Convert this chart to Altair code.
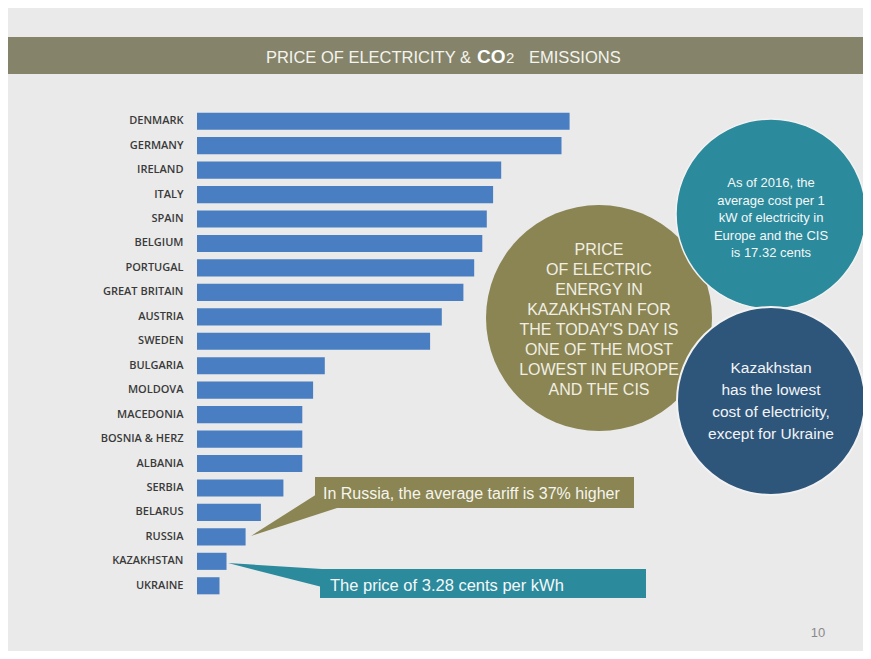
import math
import altair as alt
import pandas as pd

# ---------------- data ----------------
countries = ["DENMARK", "GERMANY", "IRELAND", "ITALY", "SPAIN", "BELGIUM",
             "PORTUGAL", "GREAT BRITAIN", "AUSTRIA", "SWEDEN", "BULGARIA",
             "MOLDOVA", "MACEDONIA", "BOSNIA & HERZ", "ALBANIA", "SERBIA",
             "BELARUS", "RUSSIA", "KAZAKHSTAN", "UKRAINE"]
price_cents = [41.4, 40.5, 33.8, 32.9, 32.2, 31.7, 30.8, 29.6, 27.2, 25.9,
               14.2, 12.9, 11.7, 11.7, 11.7, 9.6, 7.1, 5.4, 3.28, 2.5]

title_left = "PRICE OF ELECTRICITY &"
title_co = "CO"
title_sub = "2"
title_right = "EMISSIONS"
callout_russia = "In Russia, the average tariff is 37% higher"
callout_kz = "The price of 3.28 cents per kWh"
olive_lines = ["PRICE", "OF ELECTRIC", "ENERGY IN", "KAZAKHSTAN FOR",
               "THE TODAY'S DAY IS", "ONE OF THE MOST", "LOWEST IN EUROPE",
               "AND THE CIS"]
teal_lines = ["As of 2016, the", "average cost per 1", "kW of electricity  in",
              "Europe and the CIS", "is 17.32 cents"]
blue_lines = ["Kazakhstan", "has the lowest", "cost of electricity,",
              "except for Ukraine"]
page_number = "10"

df = pd.DataFrame({"country": countries, "price": price_cents})

# ---------------- layout helpers ----------------
OX, OY = 197, 109          # page position of the plot origin
W, H = 405, 489            # plot area
CW, CH = 855, 643          # whole canvas
FONT = "Liberation Sans, Arial, sans-serif"

OLIVE = "#8A8553"
HEADER = "#85846A"
TEAL = "#2B8A9C"
BLUE = "#2E557A"
BAR = "#4A7EC2"


def px(x):
    return alt.value(x - OX)


def py(y):
    return alt.value(y - OY)


def disc(r):
    # Vega circle symbol: radius = sqrt(size) / 2
    return 4 * r * r


base = alt.Chart(pd.DataFrame({"k": [0]}))

header = base.mark_rect(color=HEADER).encode(
    x=px(7), x2=px(871), y=py(37), y2=py(74))

t1 = base.mark_text(text=title_left, font=FONT, fontSize=16.5, align="right",
                    baseline="alphabetic", color="#F4F4EE").encode(x=px(471), y=py(63.3))
t2 = base.mark_text(text=title_co, font=FONT, fontSize=19, fontWeight="bold", align="left",
                    baseline="alphabetic", color="#FFFFFF").encode(x=px(477), y=py(63.3))
t3 = base.mark_text(text=title_sub, font=FONT, fontSize=15, align="left",
                    baseline="alphabetic", color="#F4F4EE").encode(x=px(506), y=py(63.3))
t4 = base.mark_text(text=title_right, font=FONT, fontSize=16.5, align="left",
                    baseline="alphabetic", color="#F4F4EE").encode(x=px(529), y=py(63.3))

bars = alt.Chart(df).mark_bar(color=BAR).encode(
    x=alt.X("price:Q", scale=alt.Scale(domain=[0, 45], nice=False), axis=None),
    y=alt.Y("country:N", sort=countries, title=None,
            scale=alt.Scale(paddingInner=0.3, paddingOuter=0.15),
            axis=alt.Axis(ticks=False, domain=False, labelPadding=14,
                          labelFont="Open Sans", labelFontSize=11,
                          labelFontWeight=600, labelColor="#3A3A3A",
                          labelLimit=200)),
)

c_olive = base.mark_circle(color=OLIVE, opacity=1, size=disc(113)).encode(
    x=px(599), y=py(318))
c_teal = base.mark_circle(color=TEAL, opacity=1, size=disc(95),
                          stroke="#F2F2F2", strokeWidth=1.5).encode(x=px(771), y=py(214))
c_blue = base.mark_circle(color=BLUE, opacity=1, size=disc(94),
                          stroke="#F2F2F2", strokeWidth=2).encode(x=px(771), y=py(401))

txt_olive = base.mark_text(text=olive_lines, font=FONT, fontSize=16, lineHeight=20,
                           align="center", baseline="top", color="#F1EFE4").encode(
    x=px(599), y=py(242))
txt_teal = base.mark_text(text=teal_lines, font=FONT, fontSize=13, lineHeight=17.5,
                          align="center", baseline="top", color="#F4F8F9").encode(
    x=px(771), y=py(177))
txt_blue = base.mark_text(text=blue_lines, font=FONT, fontSize=15.5, lineHeight=22,
                          align="center", baseline="top", color="#F2F4F7").encode(
    x=px(771), y=py(361))

# callouts
box_ru = base.mark_rect(color=OLIVE).encode(x=px(315), x2=px(634), y=py(477), y2=py(508))
ptr_ru = base.mark_point(shape="M0,0L66,-42L86,-28Z", size=4, filled=True,
                         color=OLIVE, opacity=1, strokeOpacity=0).encode(x=px(251), y=py(536))
txt_ru = base.mark_text(text=callout_russia, font=FONT, fontSize=16, align="left",
                        baseline="alphabetic", color="#F6F5EE").encode(x=px(323), y=py(498.5))

box_kz = base.mark_rect(color=TEAL).encode(x=px(320), x2=px(646), y=py(569), y2=py(598))
ptr_kz = base.mark_point(shape="M0,0L94,6L94,24Z", size=4, filled=True,
                         color=TEAL, opacity=1, strokeOpacity=0).encode(x=px(228), y=py(563))
txt_kz = base.mark_text(text=callout_kz, font=FONT, fontSize=16.5, align="left",
                        baseline="alphabetic", color="#F4F8F9").encode(x=px(330), y=py(590.5))

pnum = base.mark_text(text=page_number, font=FONT, fontSize=13, align="center",
                      baseline="middle", color="#8A8A8A").encode(x=px(818), y=py(633))

chart = alt.layer(
    header, t1, t2, t3, t4, bars,
    c_olive, c_teal, c_blue, txt_olive, txt_teal, txt_blue,
    ptr_ru, box_ru, txt_ru, ptr_kz, box_kz, txt_kz, pnum,
).properties(
    width=W, height=H,
    autosize=alt.AutoSizeParams(type="none"),
    padding={"left": OX - 8, "top": OY - 8,
             "right": CW - (OX - 8) - W, "bottom": CH - (OY - 8) - H},
    background="#EAEAEA",
).configure_view(stroke=None)

chart.save("out.html", embed_options={"renderer": "svg", "actions": False})
